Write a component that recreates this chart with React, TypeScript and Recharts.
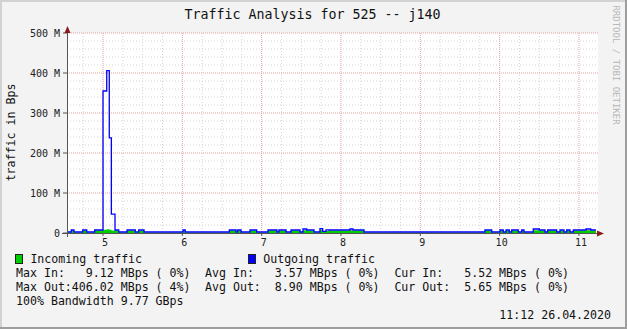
import { ComposedChart, Area, Line, XAxis, YAxis, CartesianGrid } from 'recharts';

// time in hours of day, traffic in M (Bytes/s)
const times = [
  4.546, 4.6, 4.634, 4.744, 4.795, 4.895, 5.0, 5.047, 5.079, 5.105, 5.151, 5.198, 5.303, 5.407, 5.45, 5.517,
  6.008, 6.037, 6.592, 6.677, 6.698, 6.74, 6.853, 6.937, 7.08, 7.193, 7.218, 7.307, 7.37, 7.483, 7.521, 7.568,
  7.66, 7.735, 7.769, 7.811, 7.845, 8.114, 8.151, 8.29, 9.815, 9.9, 10.004, 10.046, 10.08, 10.121, 10.152,
  10.235, 10.278, 10.307, 10.424, 10.5, 10.572, 10.606, 10.719, 10.761, 10.811, 10.845, 10.887, 10.929,
  11.089, 11.148, 11.214,
];
const incoming = [
  1, 6, 1, 6, 1, 6, 8, 9.1, 8, 6, 6, 1, 6, 1, 6, 1,
  6, 1, 6, 1, 6, 1, 6, 1, 6, 1, 6, 1, 6, 1, 7, 6,
  1, 8, 3, 5, 6, 7, 6, 1, 6, 1, 6, 1, 6, 1, 6,
  1, 6, 1, 7, 6, 1, 6, 1, 6, 1, 6, 1, 6,
  7, 6, 6,
];
const outgoing = [
  2.5, 7.5, 2.5, 7.5, 2.5, 7.5, 355, 406, 238, 47, 7.5, 2.5, 7.5, 2.5, 7.5, 2.5,
  7.5, 2.5, 7.5, 2.5, 7.5, 2.5, 7.5, 2.5, 7.5, 2.5, 7.5, 2.5, 7.5, 2.5, 10, 7.5,
  2.5, 11, 4, 8, 7.5, 10, 7.5, 2.5, 7.5, 2.5, 7.5, 2.5, 7.5, 2.5, 7.5,
  2.5, 7.5, 2.5, 10, 7.5, 2.5, 7.5, 2.5, 7.5, 2.5, 7.5, 2.5, 7.5,
  10, 7.5, 7.5,
];

const hourTicks = [5, 6, 7, 8, 9, 10, 11];
const yTicks = [0, 100, 200, 300, 400, 500];

const legendRows = [
  ['Max In:   9.12 MBps ( 0%)', 'Avg In:   3.57 MBps ( 0%)', 'Cur In:   5.52 MBps ( 0%)'],
  ['Max Out:406.02 MBps ( 4%)', 'Avg Out:  8.90 MBps ( 0%)', 'Cur Out:  5.65 MBps ( 0%)'],
];

const data = times.map((t, i) => ({ t, inM: incoming[i], outM: outgoing[i] }));

const minorX: number[] = [];
for (let q = 19; q <= 44; q++) if (q % 4 !== 0) minorX.push(q / 4);
const minorY: number[] = [];
for (let v = 20; v < 500; v += 20) if (v % 100 !== 0) minorY.push(v);

const mono = '"DejaVu Sans Mono", monospace';

export default function App() {
  return (
    <div style={{ position: 'absolute', left: 0, top: 0, width: 627, height: 329, background: '#f3f3f3' }}>
      <div style={{ position: 'absolute', left: 0, top: 0 }}>
        <ComposedChart width={627} height={329} data={data} margin={{ top: 33, right: 29, bottom: 76, left: 0 }}>
          <CartesianGrid
            fill="#ffffff"
            stroke="#d4d4d4"
            strokeDasharray="1 2"
            verticalValues={minorX}
            horizontalValues={minorY}
          />
          <CartesianGrid
            stroke="#e4a0a0"
            strokeDasharray="1 1"
            verticalValues={hourTicks}
            horizontalValues={yTicks}
          />
          <XAxis
            dataKey="t"
            type="number"
            domain={[4.546, 11.24]}
            allowDataOverflow
            ticks={hourTicks}
            interval={0}
            height={20}
            axisLine={false}
            tickSize={3}
            tickMargin={3}
            tickLine={{ stroke: '#555' }}
            tick={{ fontFamily: mono, fontSize: 10, fill: '#222', dx: 2 }}
          />
          <YAxis
            type="number"
            domain={[0, 500]}
            ticks={yTicks}
            interval={0}
            width={67}
            axisLine={false}
            tickSize={4}
            tickMargin={3}
            tickLine={{ stroke: '#555' }}
            tickFormatter={(v: number) => (v === 0 ? '0' : `${v} M`)}
            tick={{ fontFamily: mono, fontSize: 10, fill: '#222' }}
          />
          <Area
            type="stepAfter"
            dataKey="inM"
            fill="#00cc00"
            fillOpacity={1}
            stroke="none"
            isAnimationActive={false}
          />
          <Line
            type="stepAfter"
            dataKey="outM"
            stroke="#0000ff"
            strokeWidth={1.3}
            dot={false}
            isAnimationActive={false}
          />
        </ComposedChart>
      </div>
      <svg
        width={627}
        height={329}
        style={{ position: 'absolute', left: 0, top: 0, pointerEvents: 'none', fontFamily: mono }}
      >
        <rect x={0} y={0} width={627} height={2} fill="#d2d2d2" />
        <rect x={0} y={0} width={2} height={329} fill="#d2d2d2" />
        <rect x={625} y={0} width={2} height={329} fill="#9e9e9e" />
        <rect x={0} y={327} width={627} height={2} fill="#9e9e9e" />

        <line x1={62} y1={233.5} x2={599} y2={233.5} stroke="#555" strokeWidth={1} />
        <line x1={67.5} y1={237} x2={67.5} y2={30} stroke="#555" strokeWidth={1} />
        <polygon points="67.5,26 64.5,33 70.5,33" fill="#8b1a1a" />
        <polygon points="604,233.5 597,230.5 597,236.5" fill="#8b1a1a" />

        <text x={312.5} y={14} textAnchor="middle" dominantBaseline="central" fontSize={13.3} fill="#111">
          Traffic Analysis for 525 -- j140
        </text>
        <text
          x={11}
          y={132.5}
          textAnchor="middle"
          dominantBaseline="central"
          fontSize={11.6}
          fill="#111"
          transform="rotate(-90 11 132.5)"
        >
          traffic in Bps
        </text>
        <text
          x={615.5}
          y={65}
          textAnchor="middle"
          dominantBaseline="central"
          fontSize={9}
          fill="#b8b8b8"
          transform="rotate(90 615.5 65)"
        >
          RRDTOOL / TOBI OETIKER
        </text>

        <rect x={15.5} y={254.5} width={7} height={9} fill="#00cc00" stroke="#222" strokeWidth={1} />
        <text x={30.4} y={259} dominantBaseline="central" fontSize={11.6} fill="#111">
          Incoming traffic
        </text>
        <rect x={248.5} y={254.5} width={7} height={9} fill="#0000ff" stroke="#222" strokeWidth={1} />
        <text x={263.2} y={259} dominantBaseline="central" fontSize={11.6} fill="#111">
          Outgoing traffic
        </text>

        {legendRows.map((row, r) =>
          row.map((cell, c) => (
            <text
              key={`${r}-${c}`}
              x={[16, 205, 394.4][c]}
              y={273 + r * 14}
              dominantBaseline="central"
              fontSize={11.6}
              fill="#111"
              style={{ whiteSpace: 'pre' }}
            >
              {cell}
            </text>
          ))
        )}
        <text x={16} y={301} dominantBaseline="central" fontSize={11.6} fill="#111">
          100% Bandwidth 9.77 GBps
        </text>
        <text x={611} y={315} textAnchor="end" dominantBaseline="central" fontSize={11.6} fill="#111">
          11:12 26.04.2020
        </text>
      </svg>
    </div>
  );
}
